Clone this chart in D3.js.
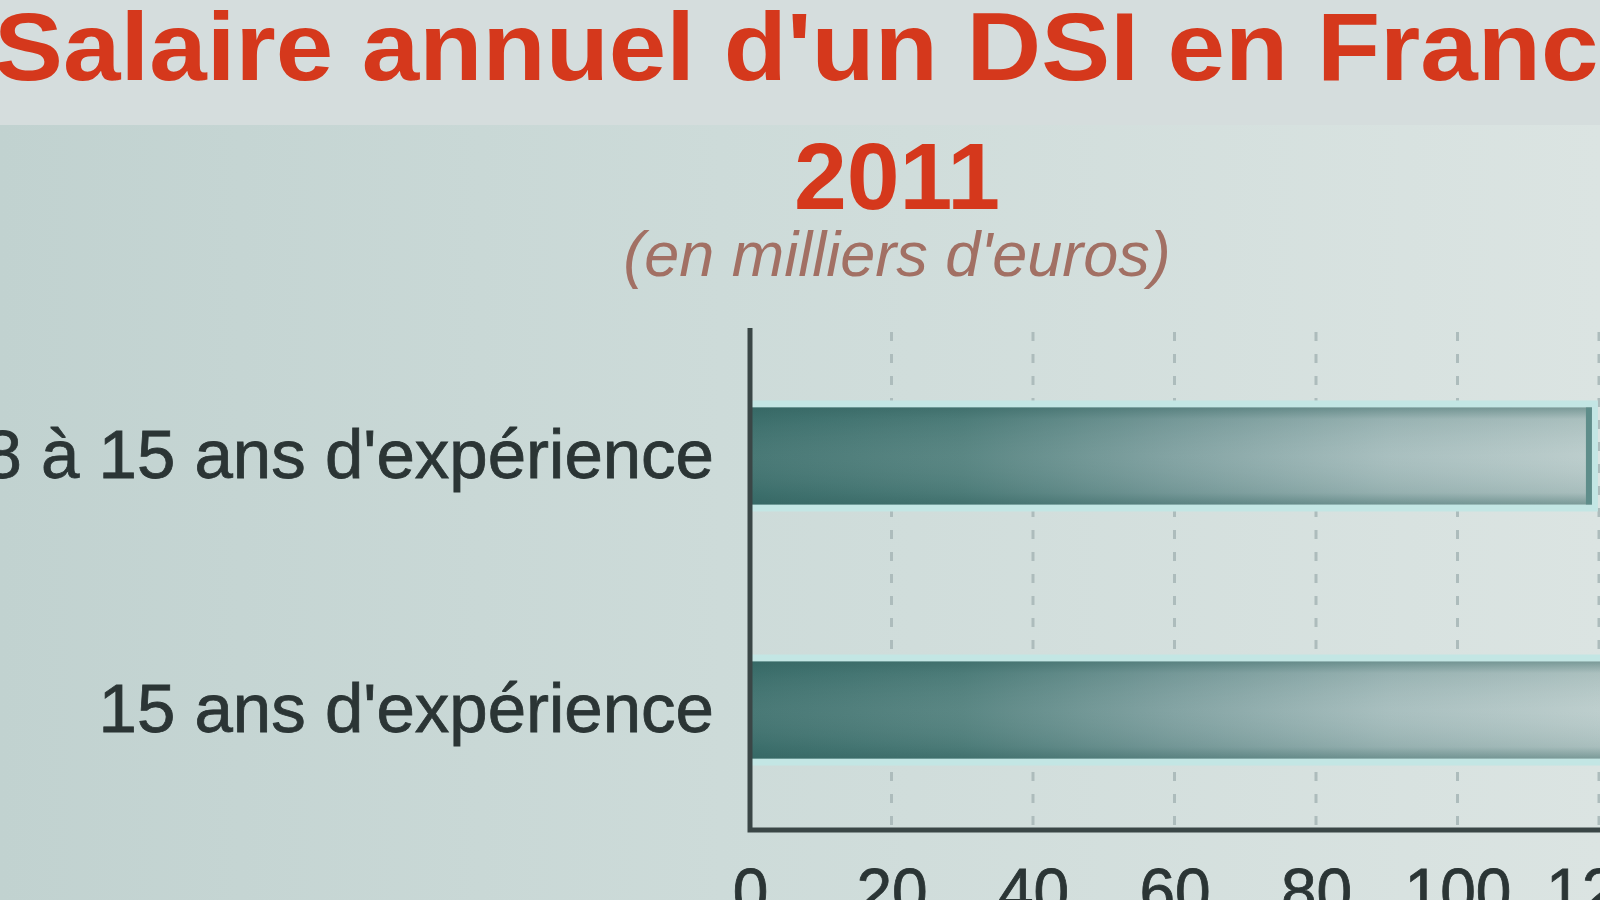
<!DOCTYPE html>
<html>
<head>
<meta charset="utf-8">
<script src="https://cdn.jsdelivr.net/npm/d3@7"></script>
<style>
  body { margin: 0; padding: 0; overflow: hidden; }
  svg { display: block; }
</style>
</head>
<body>
<div id="chart"></div>
<script>
// données (milliers d'euros)
const categories = ["De 8 à 15 ans d'expérience", "15 ans d'expérience"];
const salaires = [119, 135];
const tickValues = [0, 20, 40, 60, 80, 100, 120, 140];
const titre = "Salaire annuel d'un DSI en France";
const annee = "2011";
const sousTitre = "(en milliers d'euros)";

const w = 1600, h = 900;
const margin = { top: 328, left: 750, bottom: 830 };
const police = "'Liberation Sans', Arial, sans-serif";

const svg = d3.select("#chart").append("svg")
    .attr("width", w)
    .attr("height", h);

const defs = svg.append("defs");

// fond
const fond = defs.append("linearGradient").attr("id", "fond")
    .attr("x1", "0%").attr("x2", "100%").attr("y1", "0%").attr("y2", "0%");
fond.append("stop").attr("offset", "0%").attr("stop-color", "#c1d2d0");
fond.append("stop").attr("offset", "45%").attr("stop-color", "#cddbd9");
fond.append("stop").attr("offset", "100%").attr("stop-color", "#dbe4e2");

svg.append("rect").attr("width", w).attr("height", h).attr("fill", "url(#fond)");
svg.append("rect").attr("width", w).attr("height", 125).attr("fill", "#d5dddd");

// dégradé des barres
const gradBarre = defs.append("linearGradient").attr("id", "gradBarre")
    .attr("gradientUnits", "userSpaceOnUse")
    .attr("x1", margin.left).attr("x2", w).attr("y1", 0).attr("y2", 0);
gradBarre.append("stop").attr("offset", "0%").attr("stop-color", "#3d706d");
gradBarre.append("stop").attr("offset", "25%").attr("stop-color", "#507f7c");
gradBarre.append("stop").attr("offset", "50%").attr("stop-color", "#7c9e9e");
gradBarre.append("stop").attr("offset", "75%").attr("stop-color", "#a3bbbb");
gradBarre.append("stop").attr("offset", "100%").attr("stop-color", "#b9cbca");

const ombre = defs.append("linearGradient").attr("id", "ombre")
    .attr("x1", "0%").attr("x2", "0%").attr("y1", "0%").attr("y2", "100%");
ombre.append("stop").attr("offset", "0%").attr("stop-color", "#2f5f5c").attr("stop-opacity", 0.45);
ombre.append("stop").attr("offset", "12%").attr("stop-color", "#2f5f5c").attr("stop-opacity", 0.1);
ombre.append("stop").attr("offset", "50%").attr("stop-color", "#ffffff").attr("stop-opacity", 0.06);
ombre.append("stop").attr("offset", "88%").attr("stop-color", "#2f5f5c").attr("stop-opacity", 0.12);
ombre.append("stop").attr("offset", "100%").attr("stop-color", "#2f5f5c").attr("stop-opacity", 0.45);

// échelles
const xScale = d3.scaleLinear()
    .domain([0, 120])
    .range([margin.left, 1599]);

const yScale = d3.scaleBand()
    .domain(categories)
    .range([margin.top + 4, margin.bottom + 4])
    .paddingInner(0.618)
    .paddingOuter(0.297);

// grille verticale en pointillés
svg.append("g")
    .selectAll("line")
    .data(tickValues.filter(d => d > 0))
    .enter()
    .append("line")
    .attr("x1", d => xScale(d))
    .attr("x2", d => xScale(d))
    .attr("y1", margin.top + 4)
    .attr("y2", margin.bottom - 4)
    .attr("stroke", "#adbcbc")
    .attr("stroke-width", 3)
    .style("stroke-dasharray", "9,13");

// barres
const barres = svg.append("g");

barres.selectAll("rect.halo")
    .data(salaires)
    .enter()
    .append("rect")
    .attr("class", "halo")
    .attr("x", xScale(0))
    .attr("y", (d, i) => yScale(categories[i]) - 7)
    .attr("width", d => xScale(d) - xScale(0) + 6)
    .attr("height", yScale.bandwidth() + 14)
    .attr("fill", "#c3e6e4");

barres.selectAll("rect.barre")
    .data(salaires)
    .enter()
    .append("rect")
    .attr("class", "barre")
    .attr("x", xScale(0))
    .attr("y", (d, i) => yScale(categories[i]))
    .attr("width", d => xScale(d) - xScale(0))
    .attr("height", yScale.bandwidth())
    .attr("fill", "url(#gradBarre)");

barres.selectAll("rect.ombre")
    .data(salaires)
    .enter()
    .append("rect")
    .attr("class", "ombre")
    .attr("x", xScale(0))
    .attr("y", (d, i) => yScale(categories[i]))
    .attr("width", d => xScale(d) - xScale(0))
    .attr("height", yScale.bandwidth())
    .attr("fill", "url(#ombre)");

// bord droit des barres
barres.selectAll("line")
    .data(salaires)
    .enter()
    .append("line")
    .attr("x1", d => xScale(d) - 3)
    .attr("x2", d => xScale(d) - 3)
    .attr("y1", (d, i) => yScale(categories[i]))
    .attr("y2", (d, i) => yScale(categories[i]) + yScale.bandwidth())
    .attr("stroke", "#5e8d8a")
    .attr("stroke-width", 6);

// axes
const xAxis = svg.append("g")
    .attr("transform", `translate(0,${margin.bottom})`)
    .call(d3.axisBottom(xScale).tickValues(tickValues).tickSize(0).tickPadding(39).tickSizeOuter(0));
xAxis.select(".domain").remove();
xAxis.selectAll("text")
    .style("font-family", police)
    .style("font-size", "64px")
    .attr("fill", "#2b3535")
    .attr("stroke", "#2b3535")
    .attr("stroke-width", 0.8);

const yAxis = svg.append("g")
    .attr("transform", `translate(${margin.left},0)`)
    .call(d3.axisLeft(yScale).tickSize(0).tickPadding(36));
yAxis.select(".domain").remove();
yAxis.selectAll("text")
    .style("font-family", police)
    .style("font-size", "69px")
    .attr("fill", "#2b3535")
    .attr("stroke", "#2b3535")
    .attr("stroke-width", 0.8);

// lignes d'axe
svg.append("path")
    .attr("d", `M${margin.left},${margin.top} V${margin.bottom} H${w + 10}`)
    .attr("fill", "none")
    .attr("stroke", "#3a4646")
    .attr("stroke-width", 5);

// titres
svg.append("text")
    .attr("x", -6)
    .attr("y", 80)
    .attr("textLength", 1662)
    .attr("lengthAdjust", "spacingAndGlyphs")
    .style("font-family", police)
    .style("font-size", "97px")
    .style("font-weight", "bold")
    .attr("fill", "#d5381c")
    .text(titre);

svg.append("text")
    .attr("x", 897)
    .attr("y", 209)
    .attr("text-anchor", "middle")
    .style("font-family", police)
    .style("font-size", "95px")
    .style("font-weight", "bold")
    .attr("fill", "#d5381c")
    .text(annee);

svg.append("text")
    .attr("x", 897)
    .attr("y", 276)
    .attr("text-anchor", "middle")
    .style("font-family", police)
    .style("font-size", "63px")
    .style("font-style", "italic")
    .attr("fill", "#a27064")
    .text(sousTitre);
</script>
</body>
</html>
